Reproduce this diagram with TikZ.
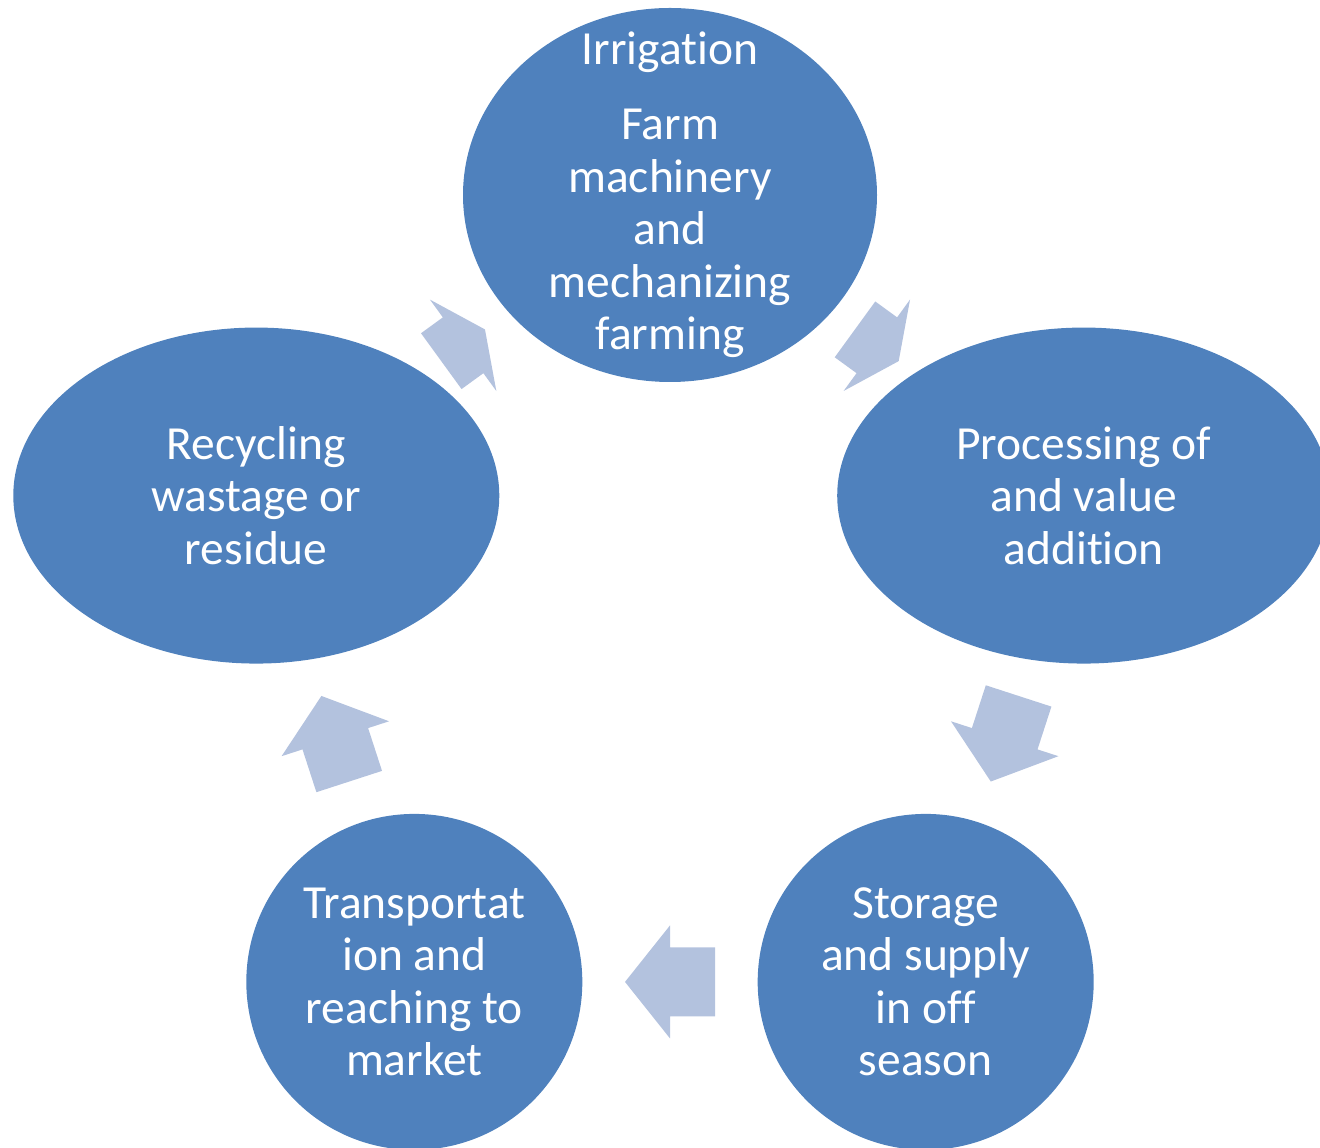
\documentclass[tikz,border=0pt]{standalone}
\usepackage{fontspec}
\setmainfont{Carlito}[Ligatures={NoCommon,NoContextual,NoRare}, Contextuals=NoAlternate]
\usetikzlibrary{shapes.geometric,decorations.markings}

\definecolor{cellblue}{HTML}{4F81BD}
\definecolor{flowblue}{HTML}{B3C2DE}

\newcommand{\cellfont}{\fontsize{47.5}{52.5}\selectfont}
% block arrow pointing along x, #1 is half its length
\newcommand{\flowarrow}[1]{%
  \fill[flowblue] (-#1,-34.5) -- (0,-34.5) -- (0,-56.5) -- (#1,0)
    -- (0,56.5) -- (0,34.5) -- (-#1,34.5) -- cycle;}

\tikzset{
  cell/.style={ellipse, fill=cellblue, inner sep=0pt},
  celltext/.style={text=white, align=center, font=\cellfont},
}

\begin{document}
\begin{tikzpicture}[x=1pt, y=1pt]
  \useasboundingbox (0,0) rectangle (1320,1148);
  \clip (0,0) rectangle (1320,1148);
  \path[shift={(670,518)}]
    (90:435) node[cell, minimum width=414pt, minimum height=374pt] (irrig) {}
    (18:435) node[cell, minimum width=493pt, minimum height=336pt] (proc) {}
    (-54:435) node[cell, minimum size=336pt] (store) {}
    (234:435) node[cell, minimum size=336pt] (transp) {}
    (162:435) node[cell, minimum width=486pt, minimum height=336pt] (recyc) {};
  \node[celltext] (irrig-t) at (irrig) {Irrigation\\[22.5pt]Farm\\machinery\\and\\mechanizing\\farming};
  \node[celltext] (proc-t) at (proc) {Processing of\\and value\\addition};
  \node[celltext] (store-t) at (store) {Storage\\and supply\\in off\\season};
  \node[celltext] (transp-t) at (transp) {Transportat\\ion and\\reaching to\\market};
  \node[celltext] (recyc-t) at (recyc) {Recycling\\wastage or\\residue};
  % arrows half way between the centres
  \foreach \a/\b/\len in {recyc/irrig/27, irrig/proc/27, proc/store/45, store/transp/45, transp/recyc/45}
    \path[decoration={markings, mark=at position 0.5 with {\flowarrow{\len}}},
      postaction={decorate}] (\a.center) -- (\b.center);
\end{tikzpicture}
\end{document}
